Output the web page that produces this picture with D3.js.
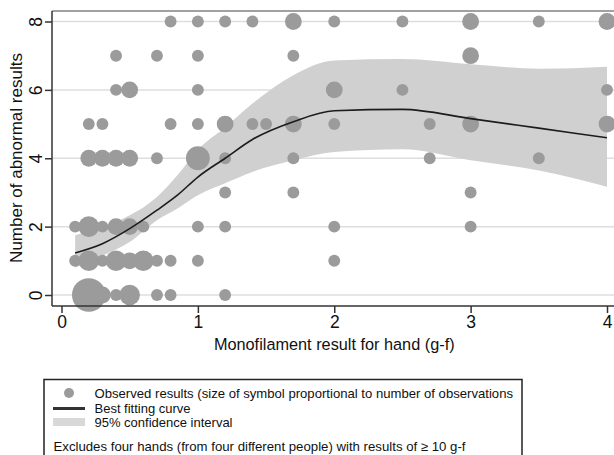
<!DOCTYPE html>
<html>
<head>
<meta charset="utf-8">
<script src="https://cdn.jsdelivr.net/npm/d3@7"></script>
<style>
  body { margin: 0; background: #fff; }
  svg { display: block; font-family: "Liberation Sans", Arial, sans-serif; }
</style>
</head>
<body>
<svg id="chart" width="614" height="455"></svg>
<script>
// observed results: [monofilament g-f, abnormal results, number of observations]
const observations = [
    [0.8, 8, 1], [1.0, 8, 1], [1.2, 8, 1], [1.4, 8, 1], [1.7, 8, 2], [2.0, 8, 1], [2.5, 8, 1], [3.0, 8, 2], [3.5, 8, 1], [4.0, 8, 2],
    [0.4, 7, 1], [0.7, 7, 1], [1.0, 7, 1], [1.7, 7, 1], [3.0, 7, 2],
    [0.4, 6, 1], [0.5, 6, 2], [1.0, 6, 1], [2.0, 6, 2], [2.5, 6, 1], [4.0, 6, 1],
    [0.2, 5, 1], [0.3, 5, 1], [0.8, 5, 1], [1.0, 5, 1], [1.2, 5, 2], [1.4, 5, 1], [1.5, 5, 1], [1.7, 5, 2], [2.0, 5, 1], [2.7, 5, 1], [3.0, 5, 2], [4.0, 5, 2],
    [0.2, 4, 2], [0.3, 4, 2], [0.4, 4, 2], [0.5, 4, 2], [0.7, 4, 1], [1.0, 4, 4], [1.2, 4, 1], [1.7, 4, 1], [2.7, 4, 1], [3.5, 4, 1],
    [1.2, 3, 1], [1.7, 3, 1], [3.0, 3, 1],
    [0.1, 2, 1], [0.2, 2, 3], [0.3, 2, 1], [0.4, 2, 2], [0.5, 2, 2], [0.6, 2, 1], [1.0, 2, 1], [1.2, 2, 1], [2.0, 2, 1], [3.0, 2, 1],
    [0.1, 1, 1], [0.2, 1, 3], [0.3, 1, 1], [0.4, 1, 3], [0.5, 1, 2], [0.6, 1, 3], [0.7, 1, 1], [0.8, 1, 1], [1.0, 1, 1], [2.0, 1, 1],
    [0.2, 0, 8], [0.3, 0, 2], [0.4, 0, 1], [0.5, 0, 3], [0.7, 0, 1], [0.8, 0, 1], [1.2, 0, 1]
];

// best fitting curve and 95% CI
const fitX     = [0.1,  0.3,  0.5,  0.7,  0.85, 1.0,  1.2,  1.4,  1.7,  2.0,  2.5,  3.0,  3.5,  4.0];
const fitY     = [1.23, 1.5,  1.94, 2.48, 2.92, 3.45, 4.0,  4.55, 5.07, 5.39, 5.43, 5.16, 4.88, 4.6];
const ciUpper  = [1.75, 1.99, 2.33, 2.87, 3.5,  4.25, 4.9,  5.6,  6.43, 6.86, 6.9,  6.75, 6.62, 6.68];
const ciLower  = [0.8,  1.15, 1.55, 2.19, 2.53, 2.92, 3.27, 3.6,  3.94, 4.18, 4.26, 3.94, 3.64, 3.17];

const xTicks = [0, 1, 2, 3, 4];
const yTicks = [0, 2, 4, 6, 8];

const legendItems = [
    "Observed results (size of symbol proportional to number of observations",
    "Best fitting curve",
    "95% confidence interval"
];
const footNote = "Excludes  four hands  (from four different people)  with results  of \u2265 10 g-f";

const svg = d3.select("#chart");
const plot = { left: 52, right: 620, top: 11, bottom: 306 };

const x = d3.scaleLinear().domain([0, 4]).range([61.5, 607]);
const y = d3.scaleLinear().domain([0, 8]).range([295, 21.5]);
const r = d3.scaleSqrt().domain([0, 8]).range([0, 16.8]);

const dotColour = "#9b9b9b";
const bandColour = "#d0d0d0";

// gridlines
svg.append("g").selectAll("line").data(yTicks).join("line")
    .attr("x1", plot.left).attr("x2", plot.right)
    .attr("y1", d => y(d)).attr("y2", d => y(d))
    .attr("stroke", "#dedede").attr("stroke-width", 1.5);

// confidence band
const band = fitX.map((d, i) => ({ x: d, lo: ciLower[i], hi: ciUpper[i], fit: fitY[i] }));
svg.append("path").datum(band)
    .attr("fill", bandColour)
    .attr("d", d3.area().x(d => x(d.x)).y0(d => y(d.lo)).y1(d => y(d.hi)).curve(d3.curveMonotoneX));

// observed points
svg.append("g").selectAll("circle").data(observations).join("circle")
    .attr("cx", d => x(d[0]))
    .attr("cy", d => y(d[1]))
    .attr("r", d => r(d[2]))
    .attr("fill", dotColour);

// fitted curve
svg.append("path").datum(band)
    .attr("fill", "none")
    .attr("stroke", "#1c1c1c")
    .attr("stroke-width", 1.6)
    .attr("d", d3.line().x(d => x(d.x)).y(d => y(d.fit)).curve(d3.curveMonotoneX));

// plot frame top line
svg.append("line")
    .attr("x1", plot.left).attr("x2", plot.right)
    .attr("y1", plot.top).attr("y2", plot.top)
    .attr("stroke", "#444").attr("stroke-width", 1.2);

// x axis
const xAxis = svg.append("g")
    .attr("transform", `translate(0,${plot.bottom})`)
    .call(d3.axisBottom(x).tickValues(xTicks).tickFormat(d3.format("d")).tickSize(7).tickSizeOuter(0));
xAxis.select(".domain").attr("d", `M${plot.left},0H${plot.right}`);
xAxis.selectAll("line, path").attr("stroke", "#333").attr("stroke-width", 1.5);
xAxis.selectAll("text")
    .attr("y", 21.5).attr("dy", 0)
    .attr("fill", "#111")
    .style("font-size", "17.5px")
    .style("font-family", "'Liberation Sans', Arial, sans-serif");

// y axis with rotated labels
const yAxis = svg.append("g")
    .attr("transform", `translate(${plot.left},0)`)
    .call(d3.axisLeft(y).tickValues(yTicks).tickSize(7).tickSizeOuter(0));
yAxis.select(".domain").attr("d", `M0,${plot.top}V${plot.bottom}`);
yAxis.selectAll("line, path").attr("stroke", "#333").attr("stroke-width", 1.5);
yAxis.selectAll("text")
    .attr("x", 0).attr("dy", 0)
    .attr("text-anchor", "middle")
    .attr("transform", "translate(-10.5,0) rotate(-90)")
    .attr("fill", "#111")
    .style("font-size", "17.5px")
    .style("font-family", "'Liberation Sans', Arial, sans-serif");

// axis titles
svg.append("text")
    .attr("x", x(2)).attr("y", 350)
    .attr("text-anchor", "middle")
    .attr("fill", "#111")
    .style("font-size", "16.3px")
    .text("Monofilament result for hand (g-f)");

svg.append("text")
    .attr("transform", "translate(22,158) rotate(-90)")
    .attr("text-anchor", "middle")
    .attr("fill", "#111")
    .style("font-size", "17px")
    .text("Number of abnormal results");

// legend
const legend = svg.append("g");
legend.append("rect")
    .attr("x", 44).attr("y", 379.5)
    .attr("width", 478).attr("height", 90)
    .attr("fill", "#fff").attr("stroke", "#222").attr("stroke-width", 1.5);

legend.append("circle").attr("cx", 69).attr("cy", 393).attr("r", 5).attr("fill", dotColour);
legend.append("line")
    .attr("x1", 53).attr("x2", 85).attr("y1", 408.5).attr("y2", 408.5)
    .attr("stroke", "#333").attr("stroke-width", 3);
legend.append("rect")
    .attr("x", 53).attr("y", 418).attr("width", 32).attr("height", 8)
    .attr("fill", "#d8d8d8");

const legendY = [397.5, 413, 426.5];
const legendW = [418.5, 96, 138];
legend.selectAll("text.item").data(legendItems).join("text")
    .attr("class", "item")
    .attr("x", 94.5)
    .attr("y", (d, i) => legendY[i])
    .attr("textLength", (d, i) => legendW[i])
    .attr("lengthAdjust", "spacingAndGlyphs")
    .attr("fill", "#111")
    .style("font-size", "13px")
    .text(d => d);

legend.append("text")
    .attr("x", 53.5).attr("y", 451)
    .attr("textLength", 412)
    .attr("lengthAdjust", "spacingAndGlyphs")
    .attr("fill", "#111")
    .style("font-size", "13px")
    .text(footNote);
</script>
</body>
</html>
